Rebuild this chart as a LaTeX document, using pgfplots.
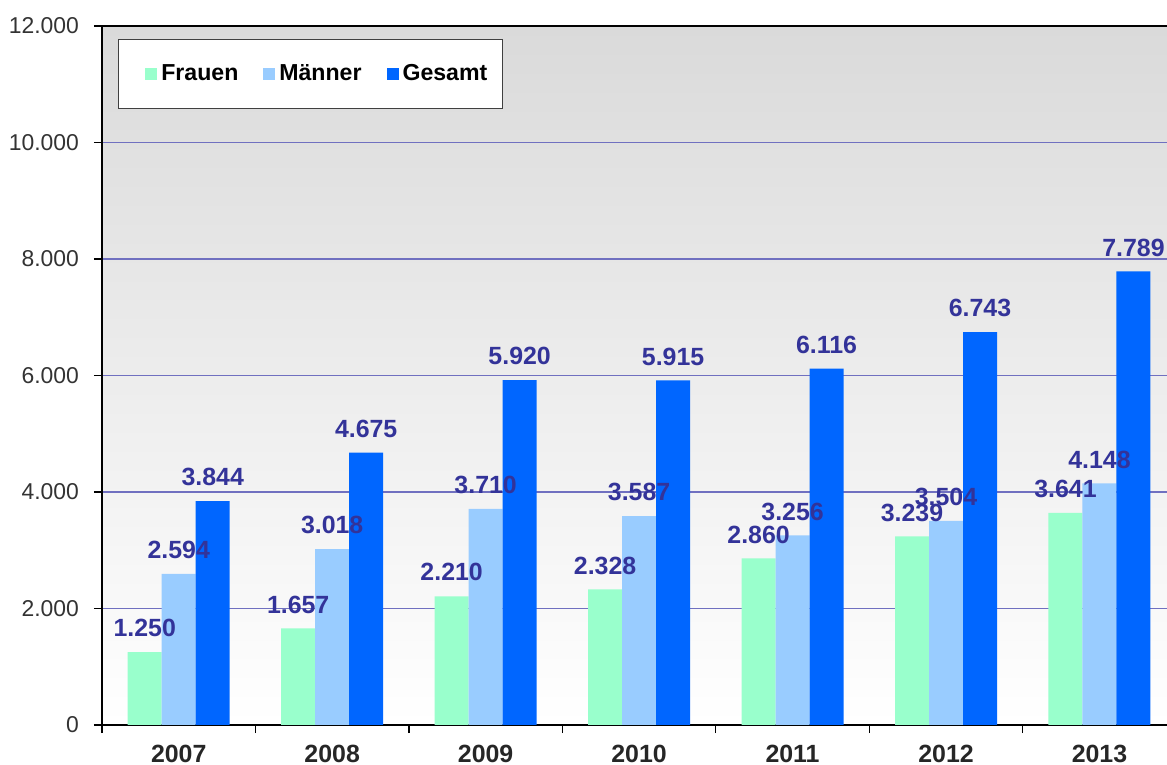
\documentclass[border=0pt]{standalone}
\usepackage{fontspec}
\setmainfont{Liberation Sans}
\usepackage{pgfplots}
\pgfplotsset{compat=1.18}

\definecolor{frauen}{HTML}{99FFCC}
\definecolor{maenner}{HTML}{99CCFF}
\definecolor{gesamt}{HTML}{0066FF}
\definecolor{labc}{HTML}{333399}
\definecolor{gridc}{HTML}{7070C0}
\definecolor{bgtop}{HTML}{DADADA}
\definecolor{tickc}{HTML}{333333}

\begin{document}
\begin{tikzpicture}
\begin{axis}[
    scale only axis,
    width=532.5bp, height=349.5bp,
    xmin=-0.5, xmax=6.44,
    ymin=0, ymax=12000,
    ytick={0,2000,...,12000},
    scaled y ticks=false,
    xtick={-0.5,0.5,...,5.5},
    xticklabels={2007,2008,2009,2010,2011,2012,2013},
    xticklabel style={xshift=38.36bp, yshift=-2.5bp, font=\bfseries\fontsize{12.5}{14}\selectfont, text=black!85},
    yticklabel style={font=\fontsize{11.5}{13}\selectfont, text=tickc, xshift=-4bp},
    /pgf/number format/assume math mode=true,
    /pgf/number format/1000 sep={.},
    axis lines=left,
    axis line style={-, black, line width=1bp},
    tick align=outside,
    major tick length=4bp,
    tick style={black, line width=0.6bp},
    ymajorgrids,
    grid style={gridc, line width=0.6bp},
    axis background/.style={top color=bgtop, bottom color=white},
    ybar=0pt, bar width=17bp,
    nodes near coords,
    nodes near coords style={font=\bfseries\fontsize{12.5}{14}\selectfont, text=labc, yshift=4bp},
    legend columns=3,
    legend image code/.code={
        \path[draw=none, fill=none] (0bp,-3bp) rectangle (14bp,3bp);
        \fill[#1] (8bp,-3bp) rectangle (14bp,3bp);},
    legend style={at={(0.015,0.981)}, anchor=north west, draw=black!75, fill=white,
        font=\bfseries\fontsize{11.6}{13}\selectfont, inner xsep=5.5bp, inner ysep=10.5bp,
        /tikz/every even column/.append style={column sep=2.5bp}},
]
\addplot[fill=frauen, draw=none] coordinates {(0,1250) (1,1657) (2,2210) (3,2328) (4,2860) (5,3239) (6,3641)};
\addlegendentry{Frauen}
\addplot[fill=maenner, draw=none] coordinates {(0,2594) (1,3018) (2,3710) (3,3587) (4,3256) (5,3504) (6,4148)};
\addlegendentry{Männer}
\addplot[fill=gesamt, draw=none] coordinates {(0,3844) (1,4675) (2,5920) (3,5915) (4,6116) (5,6743) (6,7789)};
\addlegendentry{Gesamt}
\end{axis}
\draw[black, line width=1bp] (0,349.5bp) -- (532.5bp,349.5bp);
\pgfresetboundingbox
\path[use as bounding box] (-51bp,-20bp) rectangle (532.5bp,362.5bp);
\end{tikzpicture}
\end{document}
